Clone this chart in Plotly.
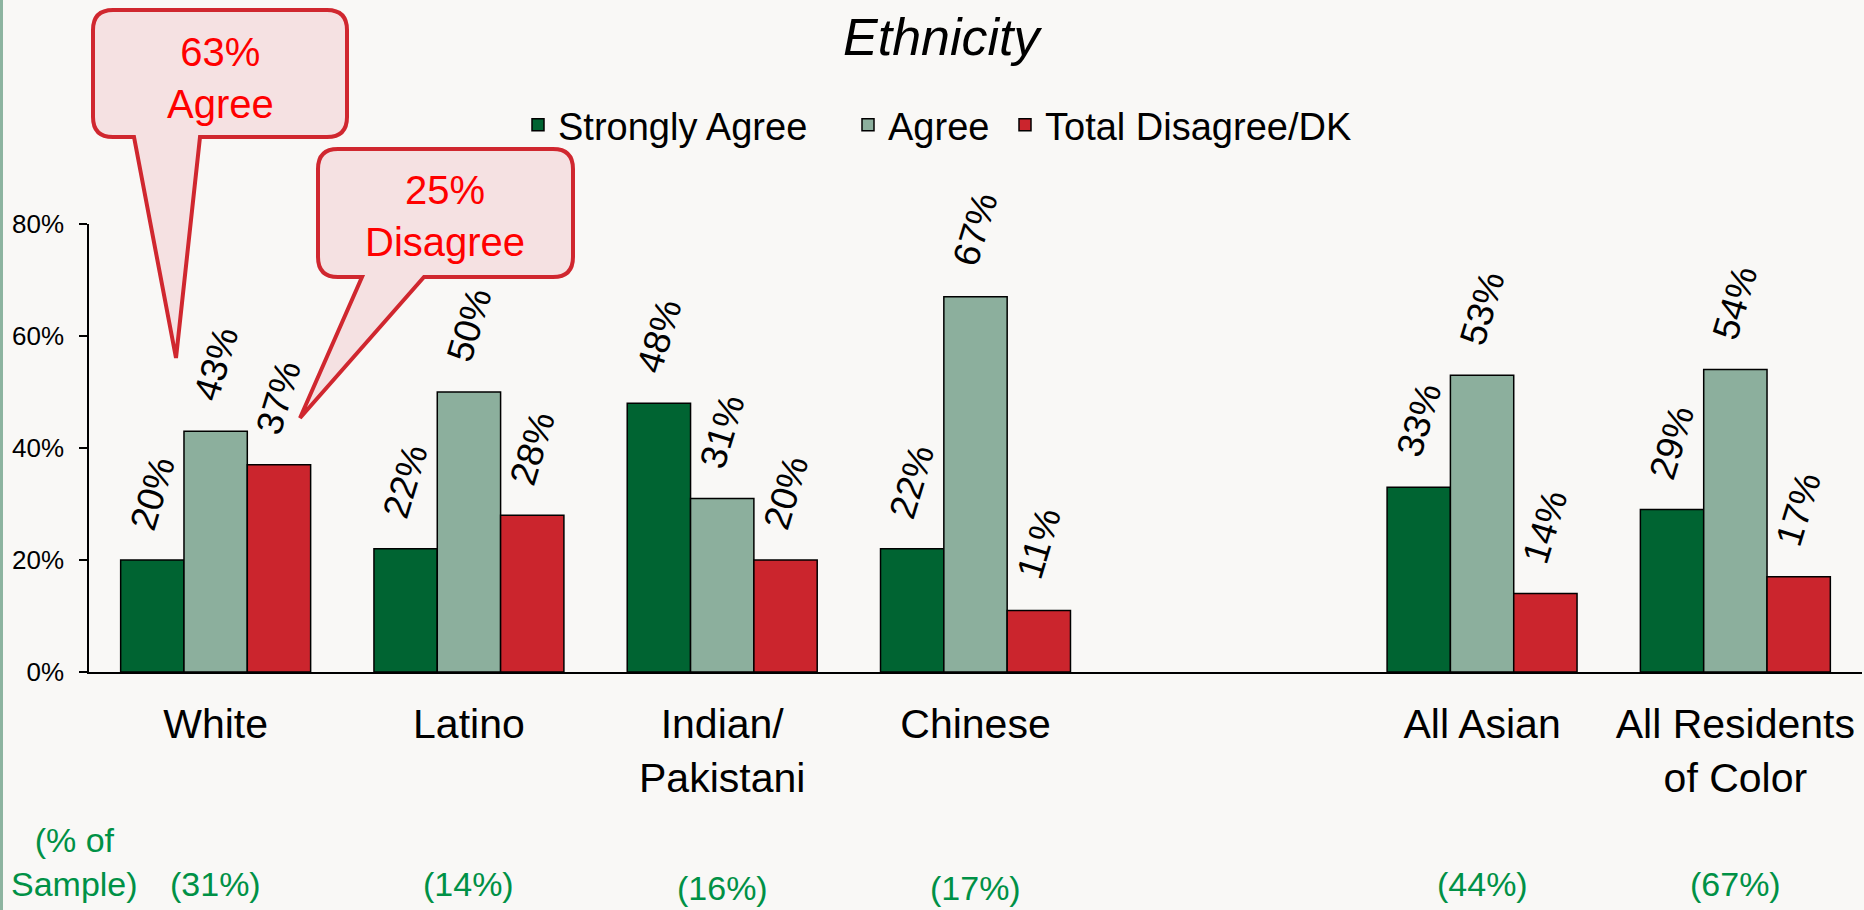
import plotly.graph_objects as go

# ---------------- data ----------------
categories = ["White", "Latino", "Indian/<br>Pakistani", "Chinese", " ", "All Asian", "All Residents<br>of Color"]
strongly_agree = [20, 22, 48, 22, None, 33, 29]
agree = [43, 50, 31, 67, None, 53, 54]
disagree = [37, 28, 20, 11, None, 14, 17]
sample_share = ["(31%)", "(14%)", "(16%)", "(17%)", "", "(44%)", "(67%)"]
series_names = ["Strongly Agree", "Agree", "Total Disagree/DK"]
y_ticks = [0, 20, 40, 60, 80]
callout_texts = ["63%<br>Agree", "25%<br>Disagree"]
title_text = "Ethnicity"
sample_header = "(% of<br>Sample)"

# ---------------- style ----------------
W, H = 1864, 910
L, R, T, B = 89, 2, 224, 238
PW, PH = W - L - R, H - T - B
BG = "#f9f8f6"
colors = ["#006432", "#8caf9d", "#cb252d"]
FONT = "Liberation Sans, Arial, sans-serif"
SLOT = PW / len(categories)
BARW = SLOT * 0.75 / 3


def px(x, y):
    return (x - L) / PW, (H - B - y) / PH


fig = go.Figure()
legend_ids = ["legend", "legend2", "legend3"]
for name, vals, col, lid in zip(series_names, [strongly_agree, agree, disagree], colors, legend_ids):
    fig.add_trace(go.Bar(
        x=categories, y=vals, name=name, legend=lid,
        marker=dict(color=col, line=dict(color="black", width=1.5)),
        hoverinfo="skip",
    ))

annotations = []
# value labels above bars
for i, vals in enumerate([strongly_agree, agree, disagree]):
    for c, v in zip(categories, vals):
        if v is None:
            continue
        annotations.append(dict(text=f"{v}%", x=c, y=v, xref="x", yref="y", showarrow=False,
                                xanchor="center", yanchor="middle", textangle=-73,
                                xshift=(i - 1) * BARW, yshift=67,
                                font=dict(family=FONT, size=37, color="black")))


def callout_path(x0, y0, x1, y1, bl, br, tip, r=20):
    def P(x, y):
        a, b = px(x, y)
        return f"{a:.5f},{b:.5f}"
    d = f"M {P(x0 + r, y0)} L {P(x1 - r, y0)} Q {P(x1, y0)} {P(x1, y0 + r)} "
    d += f"L {P(x1, y1 - r)} Q {P(x1, y1)} {P(x1 - r, y1)} "
    d += f"L {P(br, y1)} L {P(tip[0], tip[1])} L {P(bl, y1)} "
    d += f"L {P(x0 + r, y1)} Q {P(x0, y1)} {P(x0, y1 - r)} "
    d += f"L {P(x0, y0 + r)} Q {P(x0, y0)} {P(x0 + r, y0)} Z"
    return d


shapes = [
    dict(type="path", xref="paper", yref="paper",
         path=callout_path(93, 10, 347, 137, 134, 200, (176, 358)),
         fillcolor="#f5e1e2", line=dict(color="#d0272f", width=4), layer="above"),
    dict(type="path", xref="paper", yref="paper",
         path=callout_path(318, 149, 573, 277, 362, 424, (300, 418)),
         fillcolor="#f5e1e2", line=dict(color="#d0272f", width=4), layer="above"),
]
x0s, ytop = px(0, 0)
x1s, ybot = px(3, H)
shapes.append(dict(type="rect", xref="paper", yref="paper", x0=x0s, x1=x1s, y0=ybot, y1=ytop,
                   fillcolor="#8db4a0", line=dict(width=0), layer="above"))

tx, ty = px(943, 37)
annotations.append(dict(text=f"<i>{title_text}</i>", x=tx, y=ty, xref="paper", yref="paper",
                        showarrow=False, xanchor="center", yanchor="middle",
                        font=dict(family=FONT, size=52, color="black")))
for txt, (cx, cy) in zip(callout_texts, [(220, 78), (445, 216)]):
    ax, ay = px(cx, cy)
    annotations.append(dict(text=txt, x=ax, y=ay, xref="paper", yref="paper", showarrow=False,
                            xanchor="center", yanchor="middle",
                            font=dict(family=FONT, size=40, color="#ff0000")))

shifts = [0, 0, 4, 4, 0, 0, 0]
_, sy = px(0, 884)
for c, s, sh in zip(categories, sample_share, shifts):
    if s:
        annotations.append(dict(text=s, x=c, y=sy, xref="x", yref="paper", showarrow=False,
                                xanchor="center", yanchor="middle", yshift=-sh,
                                font=dict(family=FONT, size=34, color="#009146")))
hx, hy = px(74, 862)
annotations.append(dict(text=sample_header, x=hx, y=hy, xref="paper", yref="paper", showarrow=False,
                        xanchor="center", yanchor="middle", align="center",
                        font=dict(family=FONT, size=34, color="#009146")))

legend_common = dict(orientation="h", xanchor="left", yanchor="middle",
                     font=dict(family=FONT, size=38, color="black"), bgcolor="rgba(0,0,0,0)",
                     itemclick=False, itemdoubleclick=False)
legend_layout = {}
for lid, lxp in zip(legend_ids, [518, 848, 1005]):
    lx, ly = px(lxp, 125)
    legend_layout[lid] = dict(x=lx, y=ly, **legend_common)

fig.update_layout(
    width=W, height=H,
    margin=dict(l=L, r=R, t=T, b=B, pad=0),
    paper_bgcolor=BG, plot_bgcolor=BG,
    barmode="group", bargap=0.25, bargroupgap=0,
    font=dict(family=FONT, color="black"),
    showlegend=True,
    shapes=shapes, annotations=annotations,
    xaxis=dict(showline=True, linecolor="black", linewidth=2, ticks="", showgrid=False,
               tickfont=dict(family=FONT, size=41, color="black"), ticklabelstandoff=15,
               fixedrange=True),
    yaxis=dict(range=[0, 80], tickmode="array", tickvals=y_ticks,
               ticktext=[f"{v}%" for v in y_ticks], showline=True, linecolor="black",
               linewidth=1.5, ticks="outside", ticklen=8, tickcolor="black", tickwidth=1.5,
               showgrid=False, zeroline=False, tickfont=dict(family=FONT, size=26, color="black"),
               ticklabelstandoff=10, fixedrange=True),
    **legend_layout,
)

fig.write_html("out.html", config={"displayModeBar": False},
               post_script="document.body.style.margin='0';")
